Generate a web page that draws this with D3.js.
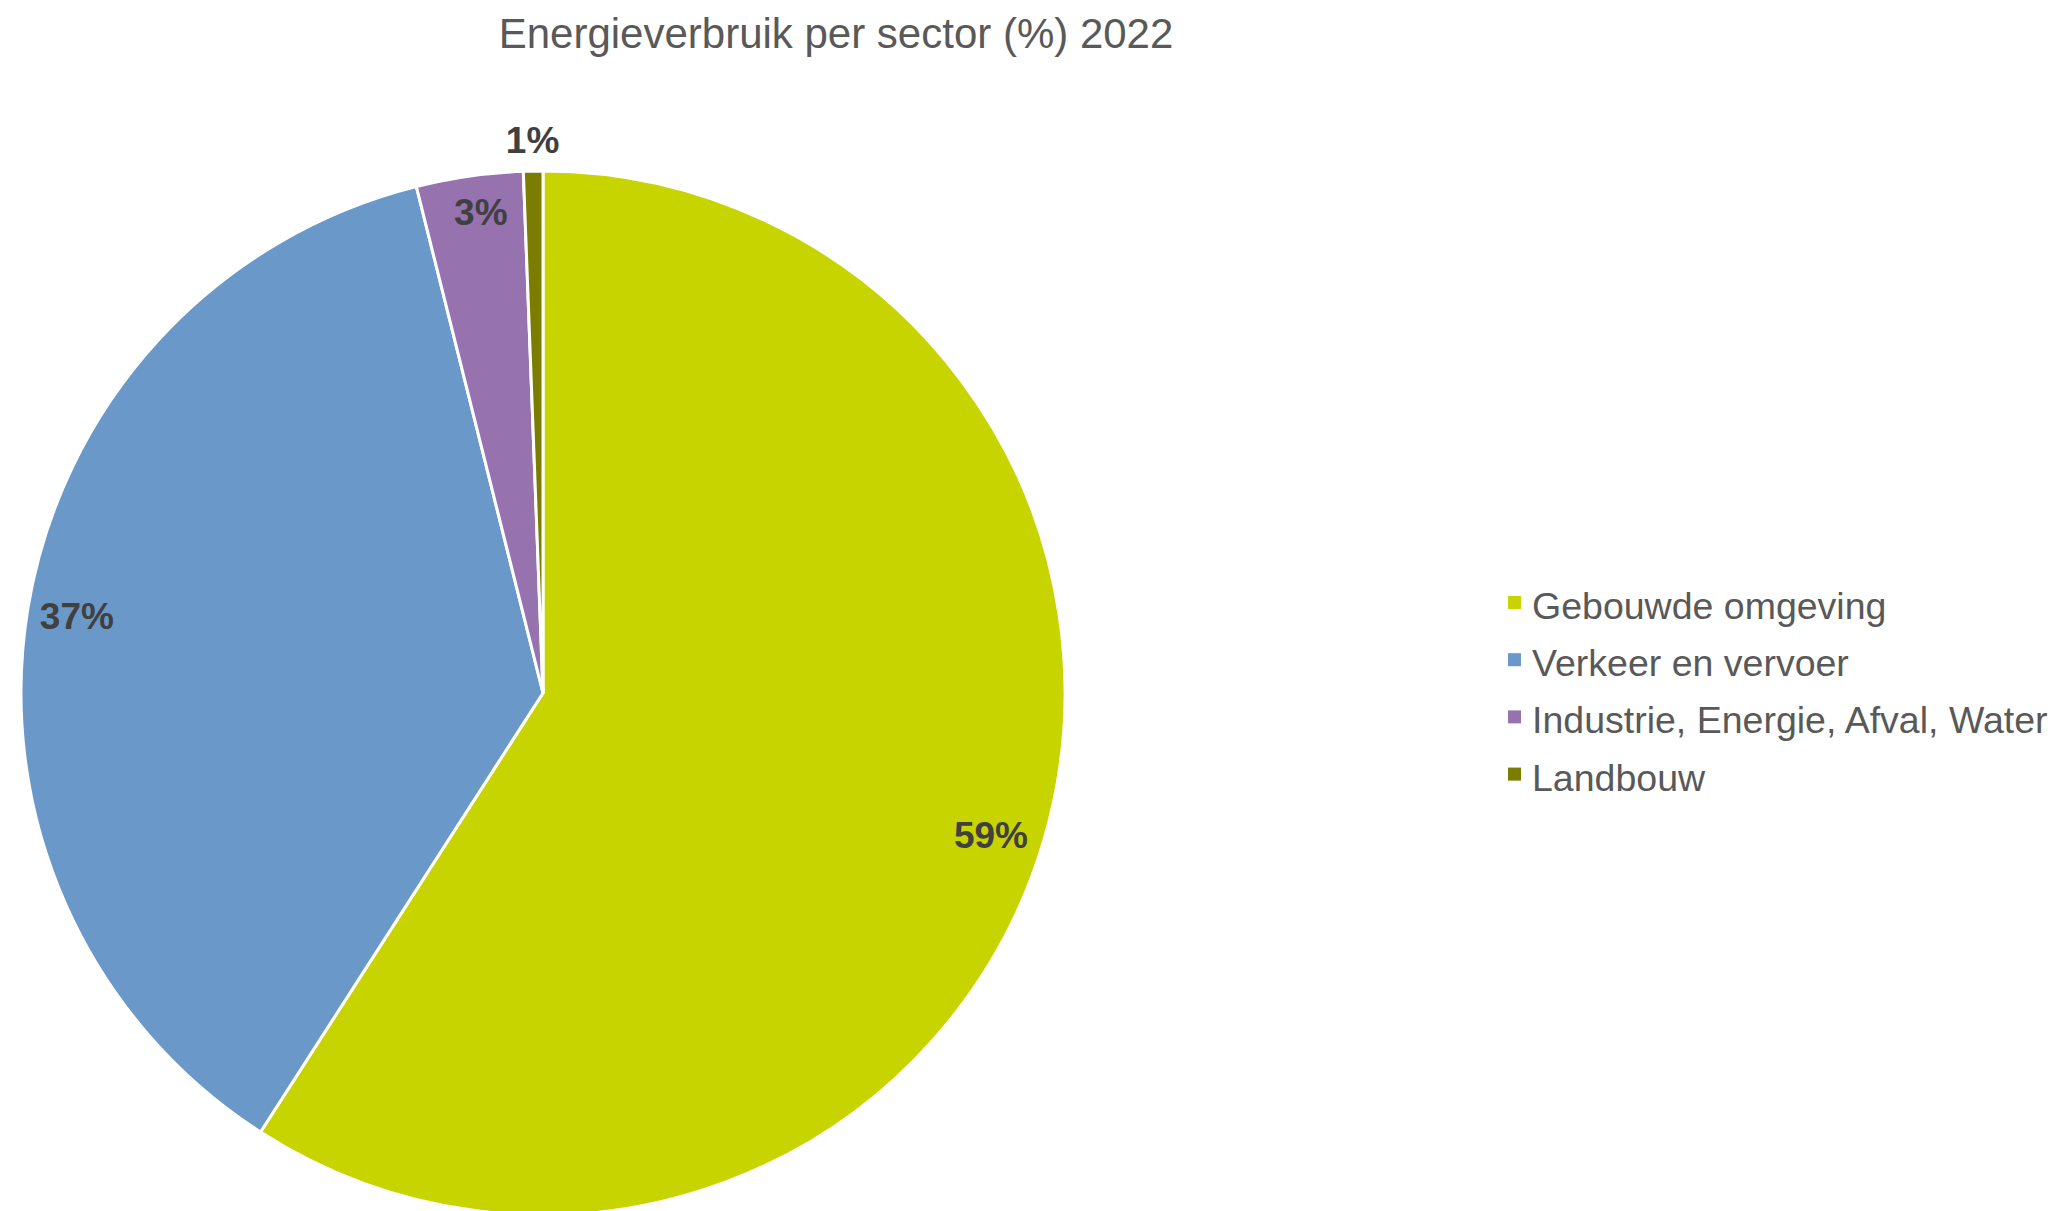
<!DOCTYPE html>
<html><head><meta charset="utf-8">
<script src="https://cdn.jsdelivr.net/npm/d3@7"></script>
<style>body{margin:0;background:#fff}svg{display:block}</style>
</head><body>
<script>
const categories = ["Gebouwde omgeving","Verkeer en vervoer","Industrie, Energie, Afval, Water","Landbouw"];
const values = [59.1, 37.0, 3.3, 0.6];
const labels = ["59%","37%","3%","1%"];
const colors = ["#C8D400","#6A98C8","#9672AE","#7A7D00"];
const title = "Energieverbruik per sector (%) 2022";

const W=2066,H=1211;
const svg=d3.select("body").append("svg").attr("width",W).attr("height",H);
const cx=543, cy=693, R=522;
const FONT="'Liberation Sans', Arial, sans-serif";

svg.append("text").attr("x",836).attr("y",48).attr("text-anchor","middle")
  .attr("font-family",FONT).attr("font-size",42).attr("fill","#595959").text(title);

const pie=d3.pie().sort(null).value(d=>d)(values);
const arc=d3.arc().innerRadius(0).outerRadius(R);
const g=svg.append("g").attr("transform",`translate(${cx},${cy})`);
g.selectAll("path").data(pie).join("path").attr("d",arc)
  .attr("fill",(d,i)=>colors[i]).attr("stroke","#fff").attr("stroke-width",3).attr("stroke-linejoin","round");

const labelR=[0.9,0.905,0.93,1.06];
const angShift=[0.02,0,0.013,0];
g.selectAll("text.lbl").data(pie).join("text").attr("class","lbl")
  .attr("transform",(d,i)=>{
    const a=(d.startAngle+d.endAngle)/2+angShift[i]; const r=R*labelR[i];
    return `translate(${Math.sin(a)*r},${-Math.cos(a)*r})`;})
  .attr("text-anchor","middle").attr("dy","0.36em")
  .attr("font-family",FONT).attr("font-weight","bold").attr("font-size",37).attr("fill","#404040")
  .text((d,i)=>labels[i]);

const lg=svg.append("g").attr("transform","translate(1508,0)");
categories.forEach((c,i)=>{
  const y=619+i*57.2;
  lg.append("rect").attr("x",0).attr("y",y-23).attr("width",13).attr("height",13).attr("fill",colors[i]);
  lg.append("text").attr("x",24).attr("y",y).attr("font-family",FONT).attr("font-size",37.5).attr("fill","#595959").text(c);
});
</script>
</body></html>
